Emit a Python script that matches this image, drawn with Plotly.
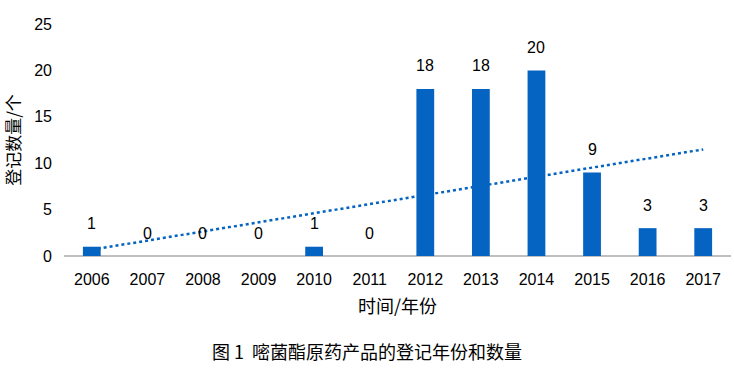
import numpy as np
import plotly.graph_objects as go

years = ["2006", "2007", "2008", "2009", "2010", "2011", "2012", "2013", "2014", "2015", "2016", "2017"]
counts = [1, 0, 0, 0, 1, 0, 18, 18, 20, 9, 3, 3]
y_ticks = [0, 5, 10, 15, 20, 25]

BLUE = "#0563C1"
NUM_FONT = "Liberation Sans, Arial, sans-serif"
CJK_FONT = "Noto Sans CJK SC, sans-serif"

xi = list(range(len(counts)))
# linear trendline fitted to the counts
slope, intercept = np.polyfit(xi, counts, 1)
trend = [slope * i + intercept for i in xi]

fig = go.Figure()
fig.add_trace(go.Scatter(
    x=xi, y=trend, mode="lines",
    line=dict(color=BLUE, width=2.5, dash="dot"),
    hoverinfo="skip", showlegend=False,
))
fig.add_trace(go.Bar(
    x=xi, y=counts, width=0.32,
    marker=dict(color=BLUE, line=dict(width=0)),
    showlegend=False,
))

for i, v in zip(xi, counts):
    fig.add_annotation(x=i, y=v, text=str(v), showarrow=False,
                       yanchor="middle", yshift=23,
                       font=dict(family=NUM_FONT, size=16, color="#000000"))

fig.add_annotation(x=0.5, y=0.045, xref="paper", yref="paper",
                   xanchor="center", yanchor="middle", showarrow=False,
                   text="图 1  嘧菌酯原药产品的登记年份和数量",
                   font=dict(family=CJK_FONT, size=18, color="#000000"))
fig.layout.annotations[-1].update(xref="x domain", yref="y domain",
                                  x=(367 - 64) / 667, y=-(351 - 256) / 232)

fig.update_layout(
    width=734, height=368,
    margin=dict(l=64, r=3, t=24, b=112),
    paper_bgcolor="white", plot_bgcolor="white",
    xaxis=dict(
        range=[-0.5, 11.5], tickvals=xi, ticktext=years,
        showgrid=False, zeroline=False, showline=False, ticks="",
        tickfont=dict(family=NUM_FONT, size=16, color="#000000"),
        ticklabelstandoff=12,
        title=dict(text="时间/年份", font=dict(family=CJK_FONT, size=18, color="#000000"), standoff=13),
    ),
    yaxis=dict(
        range=[0, 25], tickvals=y_ticks, showgrid=False,
        zeroline=True, zerolinecolor="#BFBFBF", zerolinewidth=1.5,
        showline=False, ticks="",
        tickfont=dict(family=NUM_FONT, size=16, color="#000000"),
        ticklabelstandoff=11,
        title=dict(text="登记数量/个", font=dict(family=CJK_FONT, size=17, color="#000000"), standoff=11),
    ),
)

fig.write_html("out.html", config={"displayModeBar": False},
               post_script="document.body.style.margin='0';document.body.style.padding='0';")
